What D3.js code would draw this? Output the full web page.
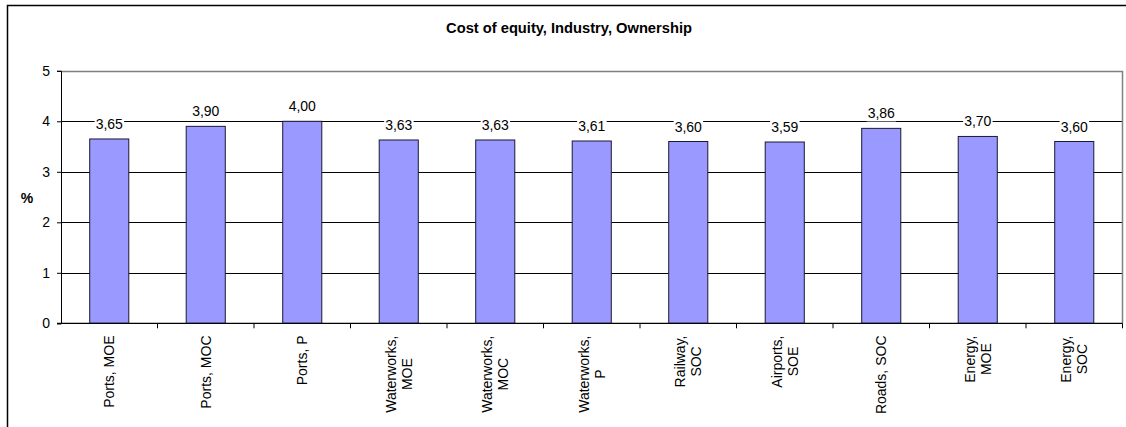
<!DOCTYPE html>
<html>
<head>
<meta charset="utf-8">
<script src="https://cdn.jsdelivr.net/npm/d3@7"></script>
<style>
  html, body { margin: 0; padding: 0; background: #fff; }
  svg { display: block; font-family: "Liberation Sans", Arial, sans-serif; }
</style>
</head>
<body>
<svg id="chart" width="1126" height="427"></svg>
<script>
// Cost of equity by industry and ownership type (%)
const categories = [
  ["Ports, MOE"],
  ["Ports, MOC"],
  ["Ports, P"],
  ["Waterworks,", "MOE"],
  ["Waterworks,", "MOC"],
  ["Waterworks,", "P"],
  ["Railway,", "SOC"],
  ["Airports,", "SOE"],
  ["Roads, SOC"],
  ["Energy,", "MOE"],
  ["Energy,", "SOC"]
];
const values = [3.65, 3.90, 4.00, 3.63, 3.63, 3.61, 3.60, 3.59, 3.86, 3.70, 3.60];
const yTicks = [0, 1, 2, 3, 4, 5];
const title = "Cost of equity, Industry, Ownership";
const yTitle = "%";

const fmt = v => v.toFixed(2).replace(".", ",");

const svg = d3.select("#chart");
const plot = { left: 61, right: 1122.5, top: 70.8, bottom: 323.3 };

// outer chart frame
svg.append("rect")
  .attr("x", 7.5).attr("y", 5.5)
  .attr("width", 1140).attr("height", 440)
  .attr("fill", "#fff").attr("stroke", "#000").attr("stroke-width", 1.5);

const x = d3.scaleBand()
  .domain(d3.range(categories.length))
  .range([plot.left, plot.right])
  .paddingInner(0.595).paddingOuter(0.2975);
const xTick = d3.scaleLinear()
  .domain([0, categories.length])
  .range([plot.left, plot.right]);
const y = d3.scaleLinear().domain([0, 5]).range([plot.bottom, plot.top]);

// horizontal gridlines
svg.append("g")
  .selectAll("line")
  .data(yTicks.filter(t => t > 0 && t < 5))
  .join("line")
  .attr("x1", plot.left).attr("x2", plot.right)
  .attr("y1", d => Math.round(y(d)) + 0.5).attr("y2", d => Math.round(y(d)) + 0.5)
  .attr("stroke", "#000").attr("stroke-width", 1);

// plot area border (top and right)
svg.append("path")
  .attr("d", `M${plot.left},${Math.round(plot.top) + 0.5}H${plot.right}V${plot.bottom}`)
  .attr("fill", "none").attr("stroke", "#808080").attr("stroke-width", 1.5);

// bars
svg.append("g")
  .selectAll("rect")
  .data(values)
  .join("rect")
  .attr("x", (d, i) => x(i))
  .attr("width", x.bandwidth())
  .attr("y", d => y(d))
  .attr("height", d => y(0) - y(d))
  .attr("fill", "#9999FF")
  .attr("stroke", "#1a1a2e").attr("stroke-width", 1);

// y axis
const yAxis = d3.axisLeft(y).tickValues(yTicks).tickSize(4).tickPadding(7)
  .tickFormat(d3.format("d"));
const gy = svg.append("g").attr("transform", `translate(${plot.left},0)`).call(yAxis);
gy.select(".domain").attr("stroke", "#000");
gy.selectAll(".tick line").attr("stroke", "#000");
gy.selectAll("text").attr("font-size", 14).attr("fill", "#000")
  .attr("font-family", '"Liberation Sans", Arial, sans-serif');

// x axis baseline with ticks at category boundaries
const gx = svg.append("g");
gx.append("line")
  .attr("x1", plot.left - 4).attr("x2", plot.right)
  .attr("y1", plot.bottom).attr("y2", plot.bottom)
  .attr("stroke", "#000").attr("stroke-width", 1.2);
gx.selectAll("line.tk")
  .data(d3.range(1, categories.length + 1))
  .join("line").attr("class", "tk")
  .attr("x1", d => xTick(d)).attr("x2", d => xTick(d))
  .attr("y1", plot.bottom).attr("y2", plot.bottom + 5)
  .attr("stroke", "#000");

// category labels, rotated, with centered lines
const labelTop = 335.5;
const lineGap = 16;
categories.forEach((lines, i) => {
  const cx = x(i) + x.bandwidth() / 2;
  const g = svg.append("g");
  const texts = lines.map((s, j) => g.append("text")
    .attr("font-size", 14).attr("fill", "#000")
    .attr("text-anchor", "middle")
    .text(s));
  const maxLen = d3.max(texts, t => t.node().getComputedTextLength());
  const cy = labelTop + maxLen / 2;
  texts.forEach((t, j) => {
    const off = (j - (lines.length - 1) / 2) * lineGap;
    const tx = cx + off + 5;
    t.attr("transform", `translate(${tx},${cy}) rotate(-90)`);
  });
});

// value labels with white backing
const lbl = svg.append("g");
values.forEach((v, i) => {
  const cx = x(i) + x.bandwidth() / 2;
  const by = y(v) - 10;
  const t = lbl.append("text")
    .attr("x", cx).attr("y", by)
    .attr("text-anchor", "middle")
    .attr("font-size", 14).attr("fill", "#000")
    .text(fmt(v));
  const bb = t.node().getBBox();
  lbl.insert("rect", () => t.node())
    .attr("x", bb.x - 1).attr("y", bb.y)
    .attr("width", bb.width + 2).attr("height", bb.height)
    .attr("fill", "#fff");
});

// title and axis title
svg.append("text")
  .attr("x", 569).attr("y", 33)
  .attr("text-anchor", "middle")
  .attr("font-size", 14.7).attr("font-weight", "bold")
  .text(title);
svg.append("text")
  .attr("x", 27).attr("y", 203)
  .attr("text-anchor", "middle")
  .attr("font-size", 14).attr("font-weight", "bold")
  .text(yTitle);
</script>
</body>
</html>
